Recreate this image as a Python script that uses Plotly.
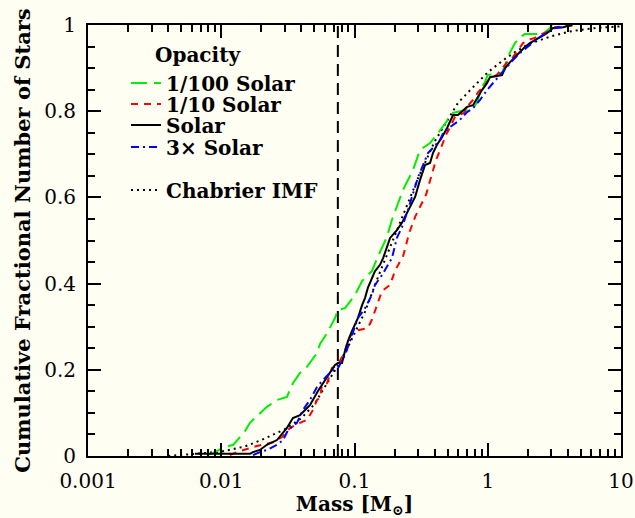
import plotly.graph_objects as go

# ---------------- data ----------------
M_HBL = 0.075  # hydrogen-burning limit marked by vertical dashed line

m_100 = [0.0078, 0.0087, 0.0103, 0.0123, 0.0138, 0.0151, 0.0164, 0.0195, 0.0220, 0.0262,
         0.0311, 0.0345, 0.0390, 0.0440, 0.0523, 0.0551, 0.0622, 0.0714, 0.0752, 0.0849,
         0.101, 0.114, 0.135, 0.148, 0.175, 0.191, 0.231, 0.275, 0.310, 0.369, 0.423,
         0.549, 0.70, 0.775, 0.83, 0.905, 0.954, 1.0, 1.28, 1.40, 1.47, 1.60, 1.75, 1.90,
         2.60, 2.93, 3.03]
f_100 = [0.002, 0.007, 0.019, 0.026, 0.044, 0.058, 0.077, 0.100, 0.114, 0.130,
         0.137, 0.169, 0.193, 0.207, 0.239, 0.260, 0.285, 0.320, 0.339, 0.343,
         0.374, 0.406, 0.429, 0.459, 0.508, 0.548, 0.617, 0.664, 0.710, 0.726, 0.749,
         0.796, 0.803, 0.807, 0.820, 0.856, 0.868, 0.884, 0.889, 0.919, 0.937, 0.958, 0.972, 0.979,
         0.979, 0.993, 1.0]

m_10 = [0.0116, 0.0131, 0.0185, 0.0206, 0.0245, 0.0286, 0.0328, 0.0390, 0.0440, 0.0488,
        0.0523, 0.0551, 0.0570, 0.0622, 0.0678, 0.0752, 0.0849, 0.0894, 0.0958, 0.106,
        0.126, 0.135, 0.148, 0.161, 0.185, 0.201, 0.220, 0.231, 0.257, 0.285, 0.344,
        0.369, 0.409, 0.446, 0.486, 0.521, 0.568, 0.665, 0.699, 0.775, 0.85, 0.921,
        1.04, 1.17, 1.28, 1.40, 1.55, 1.69, 1.84, 2.00, 2.25, 2.46, 2.78, 3.20, 4.68]
f_10 = [0.002, 0.009, 0.023, 0.026, 0.032, 0.044, 0.065, 0.077, 0.084, 0.107,
        0.130, 0.135, 0.165, 0.169, 0.204, 0.211, 0.244, 0.267, 0.285, 0.292,
        0.297, 0.316, 0.350, 0.383, 0.397, 0.429, 0.452, 0.462, 0.517, 0.555, 0.606,
        0.640, 0.687, 0.715, 0.745, 0.763, 0.787, 0.796, 0.810, 0.826, 0.845, 0.856,
        0.877, 0.884, 0.900, 0.914, 0.926, 0.942, 0.958, 0.965, 0.970, 0.977, 0.984, 0.995, 1.0]

m_1 = [0.00635, 0.0164, 0.0173, 0.0195, 0.0220, 0.0262, 0.0311, 0.0345, 0.0390, 0.0463,
       0.0532, 0.0632, 0.0714, 0.0752, 0.0806, 0.0849, 0.0894, 0.0958, 0.101, 0.106,
       0.114, 0.120, 0.126, 0.135, 0.1425, 0.155, 0.164, 0.185, 0.208, 0.227, 0.261,
       0.285, 0.310, 0.338, 0.369, 0.388, 0.416, 0.45, 0.495, 0.549, 0.598, 0.699,
       0.775, 0.830, 0.905, 0.987, 1.04, 1.28, 1.35, 1.47, 1.60, 1.75, 1.90, 2.07,
       2.25, 2.46, 2.78, 3.09, 3.67, 4.29]
f_1 = [0.005, 0.005, 0.009, 0.014, 0.026, 0.037, 0.065, 0.088, 0.095, 0.118,
       0.151, 0.188, 0.211, 0.216, 0.216, 0.244, 0.267, 0.290, 0.304, 0.320,
       0.350, 0.367, 0.390, 0.413, 0.429, 0.443, 0.459, 0.506, 0.524, 0.541, 0.578,
       0.601, 0.640, 0.675, 0.680, 0.703, 0.722, 0.738, 0.761, 0.791, 0.791, 0.810,
       0.814, 0.831, 0.849, 0.865, 0.879, 0.884, 0.900, 0.914, 0.926, 0.937, 0.949, 0.958,
       0.965, 0.972, 0.981, 0.993, 0.995, 1.0]

m_3 = [0.0173, 0.0195, 0.0220, 0.0262, 0.0291, 0.0317, 0.0370, 0.0411, 0.0463, 0.0523,
       0.0580, 0.0655, 0.0714, 0.0752, 0.0849, 0.0958, 0.101, 0.106, 0.120, 0.135,
       0.1425, 0.161, 0.178, 0.191, 0.208, 0.227, 0.252, 0.275, 0.300, 0.327, 0.356,
       0.388, 0.438, 0.462, 0.521, 0.619, 0.699, 0.775, 0.875, 0.987, 1.095, 1.24,
       1.40, 1.55, 1.75, 1.97, 2.19, 2.46, 2.78, 3.20, 3.67, 3.80]
f_3 = [0.002, 0.009, 0.014, 0.026, 0.037, 0.060, 0.077, 0.107, 0.130, 0.160,
       0.176, 0.193, 0.202, 0.204, 0.234, 0.281, 0.297, 0.320, 0.343, 0.374,
       0.397, 0.420, 0.443, 0.459, 0.506, 0.531, 0.571, 0.610, 0.647, 0.675, 0.703,
       0.715, 0.733, 0.749, 0.763, 0.780, 0.798, 0.807, 0.826, 0.849, 0.865, 0.884,
       0.903, 0.919, 0.935, 0.949, 0.960, 0.972, 0.981, 0.993, 0.995, 1.0]

m_chab = [0.004, 0.0055, 0.0078, 0.01, 0.015, 0.02, 0.03, 0.04, 0.05, 0.06, 0.075, 0.09,
          0.1, 0.12, 0.15, 0.2, 0.25, 0.3, 0.4, 0.5, 0.6, 0.8, 1.0, 1.3, 1.6, 2.0, 3.0,
          4.0, 5.0, 7.0, 10.0]
f_chab = [0.0, 0.003, 0.006, 0.01, 0.022, 0.037, 0.062, 0.088, 0.12, 0.16, 0.21, 0.255,
          0.285, 0.335, 0.415, 0.51, 0.585, 0.645, 0.73, 0.78, 0.82, 0.86, 0.89, 0.918,
          0.937, 0.955, 0.974, 0.984, 0.989, 0.994, 0.997]

names = ["1/100 Solar", "1/10 Solar", "Solar", "3× Solar", "Chabrier IMF"]
x_tickvals = [0.001, 0.01, 0.1, 1, 10]
x_ticktext = ["0.001", "0.01", "0.1", "1", "10"]
y_tickvals = [0, 0.2, 0.4, 0.6, 0.8, 1.0]
y_ticktext = ["0", "0.2", "0.4", "0.6", "0.8", "1"]

# ---------------- styling ----------------
BG = "#fefef2"
FONT = "DejaVu Serif"
series = [
    (m_100, f_100, "#00ee00", "16px,7px", "legend"),
    (m_10, f_10, "#ff0000", "7px,6px", "legend2"),
    (m_1, f_1, "#000000", "solid", "legend3"),
    (m_3, f_3, "#0000ff", "8px,4px,2px,4px", "legend4"),
]

fig = go.Figure()

# vertical dashed line at the hydrogen-burning limit
fig.add_trace(go.Scatter(x=[M_HBL, M_HBL], y=[0, 1], mode="lines",
                         line=dict(color="black", width=2, dash="12px,7px"),
                         showlegend=False, hoverinfo="skip"))

fig.add_trace(go.Scatter(x=m_chab, y=f_chab, mode="lines", name=names[4],
                         line=dict(color="black", width=2, dash="2px,4px"),
                         legend="legend5"))

for (mx, fy, col, dash, lg), nm in zip(series, names[:4]):
    fig.add_trace(go.Scatter(x=mx, y=fy, mode="lines", name=nm,
                             line=dict(color=col, width=2, dash=dash),
                             legend=lg))

# plot-area geometry (px)
L, R, T, B = 88, 14, 25, 62
W, H = 635, 518
pw, ph = W - L - R, H - T - B

def px_x(px):
    return (px - L) / pw

def px_y(py):
    return (H - B - py) / ph

legend_font = dict(family=FONT, size=20, color="black", weight="bold")
row_y = [83, 104, 125, 147, 190]
legend_x = px_x(126)
lay = {}
for i, ry in enumerate(row_y):
    key = "legend" if i == 0 else f"legend{i+1}"
    lay[key] = dict(x=legend_x, y=px_y(ry), xanchor="left", yanchor="middle",
                    bgcolor="rgba(0,0,0,0)", borderwidth=0, font=legend_font)

axis_common = dict(showline=True, linewidth=2, linecolor="black", mirror="allticks",
                   ticks="inside", tickwidth=1.5, tickcolor="black", ticklen=13,
                   showgrid=False, zeroline=False, automargin=False,
                   tickfont=dict(family=FONT, size=20, color="black"))

fig.update_layout(
    width=W, height=H,
    margin=dict(l=L, r=R, t=T, b=B, pad=0, autoexpand=False),
    paper_bgcolor=BG, plot_bgcolor=BG,
    font=dict(family=FONT, size=20, color="black"),
    xaxis=dict(type="log", range=[-3, 1], tickmode="array",
               tickvals=x_tickvals, ticktext=x_ticktext, ticklabelstandoff=6,
               minor=dict(tickmode="array",
                          tickvals=[k * 10.0 ** e for e in range(-3, 1) for k in range(2, 10)],
                          ticks="inside", ticklen=7, tickwidth=1.5, tickcolor="black",
                          showgrid=False),
               title=dict(text="Mass [M<sub>⊙</sub>]", standoff=10,
                          font=dict(family=FONT, size=20, weight="bold")),
               **axis_common),
    yaxis=dict(range=[0, 1], tickmode="array", tickvals=y_tickvals, ticktext=y_ticktext,
               ticklabelstandoff=6,
               minor=dict(dtick=0.05, ticks="inside", ticklen=7, tickwidth=1.5,
                          tickcolor="black", showgrid=False),
               title=dict(text="Cumulative Fractional Number of Stars", standoff=8,
                          font=dict(family=FONT, size=21, weight="bold")),
               **axis_common),
    annotations=[dict(text="Opacity", x=px_x(198), y=px_y(55), xref="paper", yref="paper",
                      showarrow=False, xanchor="center", yanchor="middle",
                      font=dict(family=FONT, size=20, weight="bold", color="black"))],
    **lay,
)

fig.write_html("out.html")
